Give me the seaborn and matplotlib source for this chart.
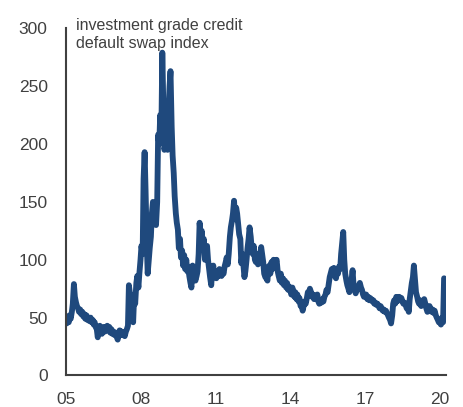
import pandas as pd
import matplotlib
matplotlib.use('Agg')
import matplotlib.pyplot as plt
import seaborn as sns

# Investment grade CDS index, semi-monthly readings (bp)
start_date = '2005-01-01'
end_date = '2020-03-01'
y2005 = [48, 45, 51, 46, 52, 49, 55, 62, 79, 68, 63, 60, 58, 55, 57, 53, 55, 51, 53, 49, 52, 48, 50, 47]
y2006 = [50, 46, 48, 44, 46, 42, 40, 33, 38, 43, 40, 36, 39, 42, 38, 41, 43, 39, 42, 37, 40, 36, 38, 35]
y2007 = [37, 34, 31, 36, 39, 35, 38, 35, 37, 34, 38, 40, 43, 78, 70, 58, 65, 46, 70, 62, 80, 86, 76, 88]
y2008 = [100, 112, 105, 170, 193, 160, 115, 88, 100, 110, 120, 140, 150, 135, 140, 130, 150, 208, 200, 225, 210, 279, 230, 195]
y2009 = [200, 215, 195, 230, 250, 263, 215, 190, 175, 155, 140, 132, 126, 110, 118, 102, 108, 95, 104, 92, 100, 90, 94, 86]
y2010 = [80, 76, 95, 90, 85, 82, 86, 90, 105, 132, 120, 125, 112, 118, 100, 108, 112, 100, 92, 85, 78, 90, 95, 86]
y2011 = [88, 84, 90, 86, 92, 88, 86, 90, 88, 94, 98, 102, 96, 105, 120, 128, 134, 140, 151, 135, 145, 140, 130, 122]
y2012 = [118, 97, 105, 95, 85, 90, 100, 110, 118, 128, 120, 110, 105, 112, 100, 98, 105, 96, 100, 104, 111, 105, 98, 88]
y2013 = [85, 84, 82, 94, 95, 88, 98, 92, 100, 94, 98, 100, 90, 86, 82, 88, 80, 84, 78, 82, 76, 80, 74, 77]
y2014 = [74, 70, 76, 72, 68, 72, 66, 70, 64, 67, 60, 62, 56, 60, 64, 62, 67, 72, 70, 75, 72, 68, 70, 66]
y2015 = [68, 66, 70, 64, 62, 65, 63, 66, 64, 68, 70, 74, 72, 78, 85, 88, 92, 88, 93, 86, 84, 90, 88, 94]
y2016 = [92, 105, 115, 124, 100, 88, 82, 78, 75, 72, 76, 82, 91, 78, 74, 71, 74, 76, 78, 80, 76, 74, 70, 68]
y2017 = [68, 70, 66, 68, 65, 67, 66, 64, 65, 62, 63, 61, 62, 60, 58, 60, 58, 56, 57, 55, 56, 54, 52, 50]
y2018 = [48, 45, 52, 62, 65, 62, 68, 64, 66, 68, 65, 67, 64, 62, 63, 61, 58, 60, 55, 66, 74, 80, 85, 95]
y2019 = [82, 72, 68, 64, 62, 65, 60, 62, 64, 66, 62, 58, 55, 57, 60, 58, 55, 57, 54, 56, 52, 50, 48, 46]
y2020 = [47, 44, 50, 46, 84]

values = (y2005 + y2006 + y2007 + y2008 + y2009 + y2010 + y2011 + y2012 +
          y2013 + y2014 + y2015 + y2016 + y2017 + y2018 + y2019 + y2020)
dates = pd.date_range(start_date, end_date, freq='SMS')
df = pd.DataFrame({'date': dates, 'spread': values})

tick_years = [2005, 2008, 2011, 2014, 2017, 2020]
tick_labels = ['05', '08', '11', '14', '17', '20']
title_text = 'investment grade credit\ndefault swap index'

sns.set_style('white')
plt.rcParams['font.family'] = ['Liberation Sans', 'DejaVu Sans']
grey = '#404040'
blue = '#1f497d'

fig = plt.figure(figsize=(4.64, 4.07), dpi=100)
ax = fig.add_axes([0.1416, 0.0774, 0.819, 0.853])
sns.lineplot(data=df, x='date', y='spread', color=blue, linewidth=4.2, ax=ax)

ax.set_xlim(pd.Timestamp('2005-01-01'), pd.Timestamp('2020-03-25'))
ax.set_ylim(0, 300)
ax.set_xticks([pd.Timestamp(f'{y}-01-01') for y in tick_years])
ax.set_xticklabels(tick_labels)
ax.set_yticks(range(0, 301, 50))
ax.set_xlabel('')
ax.set_ylabel('')

sns.despine(ax=ax)
for s in ['left', 'bottom']:
    ax.spines[s].set_color(grey)
    ax.spines[s].set_linewidth(1.5)
ax.tick_params(axis='y', direction='in', length=4, width=1.5, color=grey,
               labelcolor=grey, labelsize=12.5, pad=13)
ax.tick_params(axis='x', direction='out', length=5, width=1.5, color=grey,
               labelcolor=grey, labelsize=12.5, pad=7)

fig.text(0.164, 0.881, title_text, ha='left', va='baseline', fontsize=11.5,
         color=grey, linespacing=1.3)

fig.savefig('out.png', dpi=100)
